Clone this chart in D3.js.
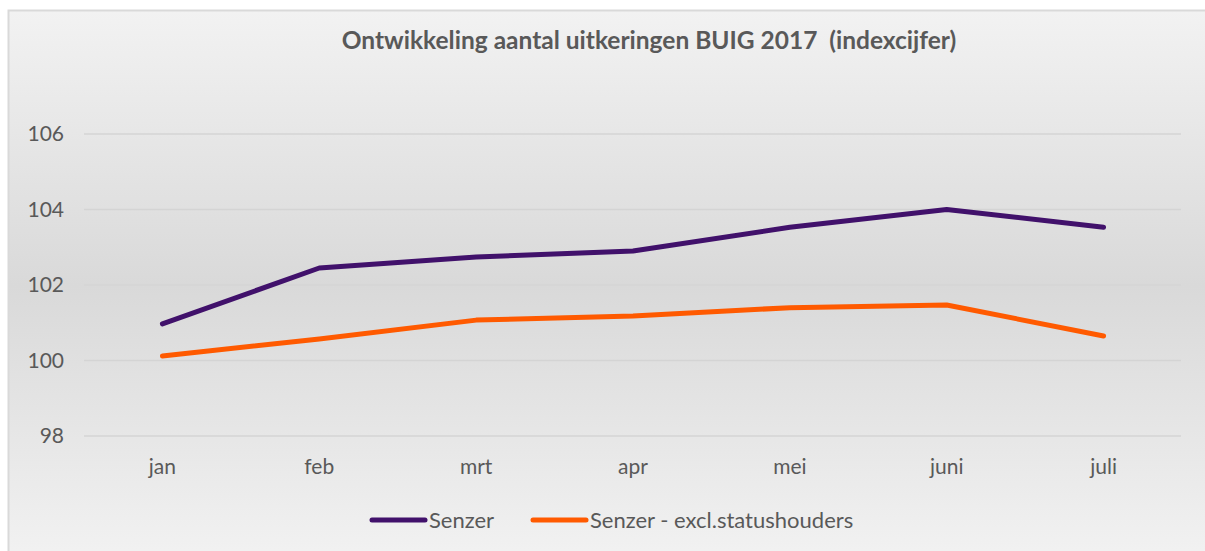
<!DOCTYPE html>
<html>
<head>
<meta charset="utf-8" />
<script src="https://d3js.org/d3.v7.min.js"></script>
<style>
  body { margin: 0; background: #fff; }
  text { font-family: Lato, "Open Sans", sans-serif; fill: #595959; }
</style>
</head>
<body>
<div id="chart"></div>
<script>
var months = ["jan", "feb", "mrt", "apr", "mei", "juni", "juli"];
var senzer = [100.97, 102.45, 102.74, 102.9, 103.53, 104.0, 103.53];
var senzerExcl = [100.12, 100.57, 101.07, 101.18, 101.4, 101.47, 100.65];
var yTicks = [98, 100, 102, 104, 106];
var seriesNames = ["Senzer", "Senzer - excl.statushouders"];
var seriesColors = ["#41116b", "#ff5a00"];

var width = 1205, height = 551;
var svg = d3.select("#chart").append("svg")
  .attr("width", width)
  .attr("height", height);

// background gradient like the excel chart area
var grad = svg.append("defs").append("linearGradient")
  .attr("id", "bg").attr("x1", 0).attr("y1", 0).attr("x2", 0).attr("y2", 1);
grad.append("stop").attr("offset", "0%").attr("stop-color", "#f2f2f2");
grad.append("stop").attr("offset", "50%").attr("stop-color", "#d9d9d9");
grad.append("stop").attr("offset", "100%").attr("stop-color", "#f2f2f2");

svg.append("rect")
  .attr("x", 8.5).attr("y", 10.5)
  .attr("width", width).attr("height", height)
  .attr("fill", "url(#bg)")
  .attr("stroke", "#d9d9d9")
  .attr("stroke-width", 2);

var x = d3.scaleBand().domain(months).range([84, 1182]);
var y = d3.scaleLinear().domain([98, 106]).range([436, 134]);

// gridlines
svg.append("g").selectAll("line")
  .data(yTicks)
  .enter().append("line")
    .attr("x1", 84).attr("x2", 1181)
    .attr("y1", function(d) { return y(d); })
    .attr("y2", function(d) { return y(d); })
    .attr("stroke", "#d4d4d4")
    .attr("stroke-width", 1.5);

// y axis labels
svg.append("g").selectAll("text")
  .data(yTicks)
  .enter().append("text")
    .attr("x", 64)
    .attr("y", function(d) { return y(d); })
    .attr("dy", "0.35em")
    .attr("text-anchor", "end")
    .style("font-size", "21px")
    .text(function(d) { return d; });

// x axis labels
svg.append("g").selectAll("text")
  .data(months)
  .enter().append("text")
    .attr("x", function(d) { return x(d) + x.bandwidth() / 2; })
    .attr("y", 467)
    .attr("dy", "0.35em")
    .attr("text-anchor", "middle")
    .style("font-size", "21px")
    .text(function(d) { return d; });

var line = d3.line()
  .x(function(d, i) { return x(months[i]) + x.bandwidth() / 2; })
  .y(function(d) { return y(d); });

[senzer, senzerExcl].forEach(function(s, i) {
  svg.append("path")
    .datum(s)
    .attr("d", line)
    .attr("fill", "none")
    .attr("stroke", seriesColors[i])
    .attr("stroke-width", 5)
    .attr("stroke-linecap", "round")
    .attr("stroke-linejoin", "round");
});

// title
svg.append("text")
  .attr("x", 649)
  .attr("y", 40)
  .attr("dy", "0.35em")
  .attr("text-anchor", "middle")
  .style("font-size", "24.5px")
  .style("font-weight", "bold")
  .style("white-space", "pre")
  .attr("xml:space", "preserve")
  .text("Ontwikkeling aantal uitkeringen BUIG 2017  (indexcijfer)");

// legend
var legendX = [372, 533];
var legend = svg.append("g").selectAll("g")
  .data(seriesNames)
  .enter().append("g")
    .attr("transform", function(d, i) { return "translate(" + legendX[i] + ",520)"; });
legend.append("line")
  .attr("x1", 0).attr("x2", 53)
  .attr("stroke", function(d, i) { return seriesColors[i]; })
  .attr("stroke-width", 5)
  .attr("stroke-linecap", "round");
legend.append("text")
  .attr("x", 57)
  .attr("dy", "0.35em")
  .style("font-size", "22px")
  .text(function(d) { return d; });
</script>
</body>
</html>
